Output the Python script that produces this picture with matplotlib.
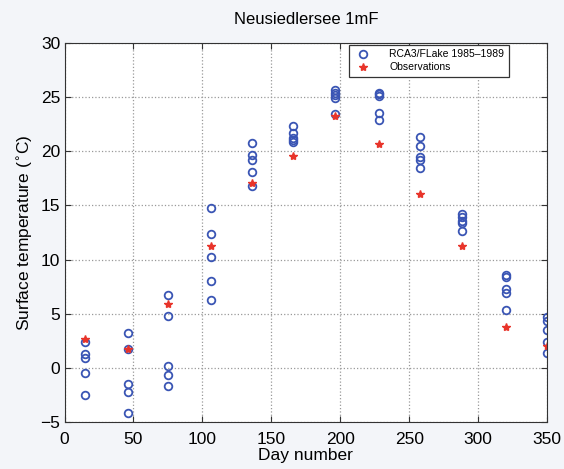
import numpy as np
import matplotlib.pyplot as plt

# Day numbers (mid-month) for each set of points
days = [15, 46, 75, 106, 136, 166, 196, 228, 258, 288, 320, 350]

# RCA3/FLake monthly means, one value per year 1985-1989
model = [
    [2.4, 1.3, 0.9, -0.5, -2.5],
    [3.2, 1.7, -1.5, -2.2, -4.2],
    [6.7, 4.8, 0.2, -0.7, -1.7],
    [14.8, 12.4, 10.2, 8.0, 6.3],
    [20.8, 19.7, 19.2, 18.1, 16.8],
    [22.3, 21.7, 21.2, 21.0, 20.9],
    [25.7, 25.4, 25.2, 24.9, 23.4],
    [25.4, 25.3, 25.1, 23.5, 22.9],
    [21.3, 20.5, 19.5, 19.2, 18.5],
    [14.2, 13.9, 13.6, 13.4, 12.6],
    [8.6, 8.4, 7.3, 6.9, 5.3],
    [4.7, 4.3, 3.5, 2.4, 1.4],
]

# Observed monthly means
obs = [2.7, 1.7, 5.9, 11.3, 17.1, 19.6, 23.3, 20.7, 16.1, 11.3, 3.8, 2.0]

plt.rcParams['font.family'] = ['Liberation Sans', 'DejaVu Sans']

fig = plt.figure(figsize=(5.64, 4.69), dpi=100)
fig.patch.set_facecolor('#f3f5f9')
ax = fig.add_axes([0.1144, 0.1002, 0.8556, 0.8081])

mx = np.repeat(days, [len(m) for m in model])
my = np.concatenate(model)
ax.plot(mx, my, 'o', markerfacecolor='none', markeredgecolor='#3a55b4',
        markersize=5.5, markeredgewidth=1.3, label='RCA3/FLake 1985\u20131989')
ax.plot(days, obs, '*', color='#e8342a', markersize=6,
        label='Observations')

ax.set_xlim(0, 350)
ax.set_ylim(-5, 30)
ax.set_xticks(range(0, 351, 50))
ax.set_yticks(range(-5, 31, 5))
ax.tick_params(direction='in', top=True, right=True, labelsize=12.5,
               length=4, color='#333333')
ax.tick_params(axis='x', pad=7)
ax.tick_params(axis='y', pad=3)
ax.grid(True, linestyle=':', color='#999999', linewidth=0.9)
for s in ax.spines.values():
    s.set_color('#333333')

ax.set_title('Neusiedlersee 1mF', fontsize=12, pad=14)
ax.set_xlabel('Day number', fontsize=12.5, labelpad=1)
ax.set_ylabel('Surface temperature ($^{\\circ}$C)', fontsize=12.5, labelpad=4)

leg = ax.legend(loc='upper right', bbox_to_anchor=(0.921, 0.996), fontsize=7.5,
                fancybox=False, edgecolor='#333333', framealpha=1,
                handletextpad=1.6, borderpad=0.45, labelspacing=0.3,
                handlelength=1.8, borderaxespad=0)
leg.get_frame().set_linewidth(0.9)

plt.savefig('out.png', facecolor=fig.get_facecolor())
